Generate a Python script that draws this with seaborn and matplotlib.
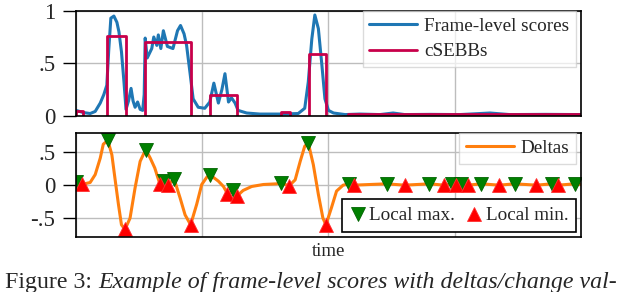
import matplotlib
matplotlib.use("Agg")
import matplotlib.pyplot as plt
import seaborn as sns
import pandas as pd

# ── Data (time axis in arbitrary units 0..100) ───────────────
score_t = [0, 1.4, 2.8, 3.8, 4.8, 5.5, 6.1, 6.5, 6.9, 7.5, 8.1, 8.5, 9.0, 9.5, 9.9,
           10.4, 10.9, 11.3, 11.7, 12.2, 12.7, 13.2, 13.5, 13.7, 14.1, 15.0, 15.4,
           16.0, 16.3, 16.8, 17.3, 18.1, 19.2, 20.1, 20.7, 21.4, 21.9, 22.6, 23.2,
           24.2, 25.5, 26.5, 27.3, 28.2, 28.9, 29.5, 30.2, 30.8, 31.5, 32.1, 33.8,
           36.4, 40.4, 44.0, 45.3, 46.0, 46.7, 47.3, 48.0, 48.7, 49.3, 50.0, 51.0,
           53.3, 56.2, 60.2, 62.8, 65.1, 70.1, 76.0, 82.0, 85.9, 92.9, 100]
score_v = [0.05, 0.03, 0.02, 0.04, 0.12, 0.2, 0.29, 0.64, 0.93, 0.95, 0.89, 0.8, 0.61,
           0.32, 0.06, 0.14, 0.26, 0.14, 0.08, 0.13, 0.06, 0.05, 0.2, 0.74, 0.55, 0.64,
           0.75, 0.67, 0.77, 0.64, 0.81, 0.66, 0.64, 0.81, 0.86, 0.78, 0.67, 0.40, 0.16,
           0.08, 0.07, 0.13, 0.31, 0.12, 0.25, 0.40, 0.13, 0.17, 0.12, 0.05, 0.025,
           0.015, 0.015, 0.02, 0.07, 0.32, 0.73, 0.96, 0.83, 0.48, 0.16, 0.05, 0.025,
           0.01, 0.015, 0.01, 0.025, 0.01, 0.012, 0.01, 0.025, 0.01, 0.012, 0.01]

# cSEBBs: start, end, value
sebb_start = [0, 6.2, 13.7, 26.5, 40.5, 46.1, 53.9]
sebb_end = [1.3, 9.9, 22.7, 31.8, 42.4, 49.6, 100]
sebb_value = [0.04, 0.757, 0.70, 0.195, 0.03, 0.59, 0.012]

delta_t = [0, 1.1, 2.8, 3.8, 4.8, 5.4, 6.3, 7.1, 7.7, 8.4, 9.0, 9.7, 10.7, 11.7, 12.7,
           13.8, 14.7, 15.6, 16.6, 17.5, 18.2, 19.4, 20.6, 21.6, 22.7, 23.9, 24.9,
           25.9, 26.5, 28.2, 29.2, 30.0, 31.0, 31.8, 33.1, 34.8, 37.1, 39.7, 40.5,
           42.2, 43.4, 44.4, 45.3, 46.0, 47.0, 48.0, 48.9, 49.5, 50.6, 51.6, 52.9,
           54.1, 55.0, 61.5, 65.1, 70.0, 72.9, 74.4, 75.3, 76.2, 77.6, 80.3, 83.8,
           86.9, 91.2, 94.2, 95.5, 98.8, 100]
delta_v = [0.05, 0.01, 0.04, 0.16, 0.41, 0.62, 0.68, 0.46, 0.11, -0.29, -0.6, -0.67,
           -0.5, -0.04, 0.36, 0.54, 0.41, 0.26, 0.02, 0.07, 0.0, 0.1, -0.19, -0.45,
           -0.6, -0.29, 0.01, 0.12, 0.16, 0.06, -0.02, -0.13, -0.08, -0.17, -0.08,
           -0.02, 0.01, 0.02, 0.035, -0.01, 0.08, 0.36, 0.59, 0.64, 0.31, -0.14, -0.5,
           -0.6, -0.34, -0.09, 0.0, 0.02, 0.0, 0.02, 0.0, 0.02, 0.0, 0.02, 0.0, 0.02,
           0.0, 0.02, 0.0, 0.02, 0.0, 0.02, 0.0, 0.02, 0.01]

max_t = [0, 6.3, 13.8, 17.5, 19.4, 26.5, 31.0, 40.5, 46.0, 54.1, 61.5, 70.0, 74.4,
         76.2, 80.3, 86.9, 94.2, 98.8]
max_v = [0.05, 0.68, 0.54, 0.07, 0.1, 0.16, -0.08, 0.035, 0.64, 0.02, 0.02, 0.02,
         0.02, 0.02, 0.02, 0.02, 0.02, 0.02]
min_t = [1.1, 9.7, 16.6, 18.2, 22.7, 30.0, 31.8, 42.2, 49.5, 55.0, 65.1, 72.9, 75.3,
         77.6, 83.8, 91.2, 95.5]
min_v = [0.01, -0.67, 0.02, 0.0, -0.6, -0.13, -0.17, -0.01, -0.6, 0.0, 0.0, 0.0, 0.0,
         0.0, 0.0, 0.0, 0.0]

top_ticks = [0, 0.5, 1]
top_labels = ["0", ".5", "1"]
bot_ticks = [-0.5, 0, 0.5]
bot_labels = ["-.5", "0", ".5"]
x_grid = [0, 25, 50, 75, 100]

BLUE, CRIMSON, ORANGE = "#1f77b4", "#c8004a", "#ff7f0e"

# ── Style ───────────────────────────────────────────────────
sns.set_style("whitegrid")
plt.rcParams["font.family"] = ["Liberation Serif", "DejaVu Serif"]

fig = plt.figure(figsize=(6.18, 2.92), dpi=100)
ax1 = fig.add_axes([0.123, 0.604, 0.817, 0.359])
ax2 = fig.add_axes([0.123, 0.1873, 0.817, 0.3572])

# ── Top: scores and cSEBBs ──────────────────────────────────
scores = pd.DataFrame({"t": score_t, "v": score_v})
sns.lineplot(data=scores, x="t", y="v", ax=ax1, color=BLUE, lw=2.2,
             label="Frame-level scores")
for i, (s, e, v) in enumerate(zip(sebb_start, sebb_end, sebb_value)):
    ax1.plot([s, s, e, e], [0, v, v, 0], color=CRIMSON, lw=2.0,
             label="cSEBBs" if i == 0 else None)

# ── Bottom: deltas with extrema ─────────────────────────────
deltas = pd.DataFrame({"t": delta_t, "v": delta_v})
sns.lineplot(data=deltas, x="t", y="v", ax=ax2, color=ORANGE, lw=2.2, label="Deltas")
h_max, = ax2.plot(max_t, max_v, ls="none", marker="v", ms=9.5, color="#008000",
                  mec="#006400", mew=0.6, label="Local max.")
h_min, = ax2.plot(min_t, min_v, ls="none", marker="^", ms=9.5, color="#ff0000",
                  mec="#ff3030", mew=0.6, label="Local min.")

for ax, ticks, labels in [(ax1, top_ticks, top_labels), (ax2, bot_ticks, bot_labels)]:
    ax.set_xlim(0, 100)
    ax.set_xticks(x_grid)
    ax.set_yticks(ticks)
    ax.set_yticklabels(labels)
    ax.tick_params(axis="x", length=0, labelbottom=False)
    ax.tick_params(axis="y", direction="out", length=9.5, width=1, color="black",
                   pad=5.5, labelsize=16.5, left=True)
    ax.grid(True, color="#bdbdbd", lw=1.0)
    ax.set_xlabel("")
    ax.set_ylabel("")
    for sp in ax.spines.values():
        sp.set_color("black")
        sp.set_linewidth(1.2)

ax1.set_ylim(0, 1)
ax2.set_ylim(-0.79, 0.79)

leg1 = ax1.legend(loc="upper right", bbox_to_anchor=(0.99, 1.0), borderaxespad=0,
                  fontsize=13.8, handlelength=2.5, labelspacing=0.42, borderpad=0.35,
                  handletextpad=0.35, framealpha=0.7, edgecolor="#cccccc",
                  fancybox=False)

h_delta = ax2.get_lines()[0]
leg2 = ax2.legend([h_delta], ["Deltas"], loc="upper right", bbox_to_anchor=(0.99, 1.0),
                  borderaxespad=0, fontsize=13.8, handlelength=2.5, borderpad=0.35,
                  handletextpad=0.35, framealpha=0.7, edgecolor="#cccccc",
                  fancybox=False)
ax2.add_artist(leg2)
leg3 = ax2.legend([h_max, h_min], ["Local max.", "Local min."], loc="lower right",
                  bbox_to_anchor=(0.99, 0.05), borderaxespad=0, fontsize=13.8, ncol=2,
                  handlelength=0.8, handletextpad=0.2, columnspacing=0.6,
                  framealpha=1, edgecolor="black", fancybox=False)
leg3.get_frame().set_linewidth(1.2)

ax2.set_xlabel("time", fontsize=13.5, labelpad=4)

# ── Caption ─────────────────────────────────────────────────
renderer = fig.canvas.get_renderer()
cap1 = fig.text(0.008, 0.014, "Figure 3: ", fontsize=17.2, va="baseline")
w = cap1.get_window_extent(renderer).width / fig.bbox.width
fig.text(0.008 + w, 0.014, "Example of frame-level scores with deltas/change val-",
         fontsize=17.2, style="italic", va="baseline")

fig.savefig("out.png", dpi=100)
